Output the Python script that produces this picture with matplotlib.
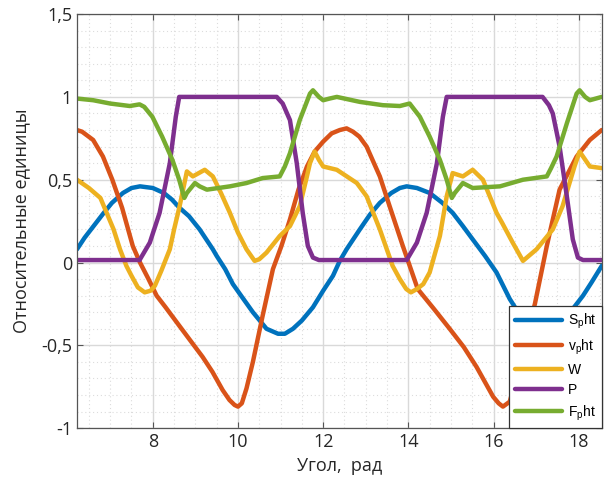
import matplotlib
matplotlib.use('Agg')
import matplotlib.pyplot as plt
from matplotlib.ticker import MultipleLocator, FuncFormatter

# S_p ht
s_x = [6.22, 6.4, 6.64, 6.85, 7.04, 7.3, 7.5, 7.7, 8.0, 8.26, 8.45, 8.63, 8.85, 9.1, 9.41, 9.5, 9.7,
       9.88, 10.1, 10.35, 10.67, 10.94, 11.1, 11.29, 11.5, 11.76, 12.0, 12.23, 12.39, 12.55, 12.86,
       13.1, 13.33, 13.6, 13.8, 13.96, 14.2, 14.5, 14.8, 15.04, 15.28, 15.51, 15.8, 16.07, 16.38, 16.7,
       17.0, 17.2, 17.45, 17.8, 18.1, 18.3, 18.54]
s_y = [0.08, 0.15, 0.23, 0.30, 0.36, 0.42, 0.45, 0.46, 0.45, 0.42, 0.38, 0.33, 0.28, 0.20, 0.08, 0.04, -0.04,
       -0.13, -0.21, -0.30, -0.40, -0.43, -0.43, -0.40, -0.35, -0.27, -0.17, -0.08, 0.01, 0.08, 0.20,
       0.29, 0.36, 0.42, 0.45, 0.46, 0.45, 0.42, 0.36, 0.30, 0.22, 0.14, 0.04, -0.06, -0.22, -0.35,
       -0.42, -0.44, -0.40, -0.30, -0.20, -0.12, -0.02]

# v_p ht
v_x = [6.22, 6.34, 6.6, 6.83, 7.05, 7.28, 7.53, 7.7, 7.9, 8.09, 8.3, 8.56, 8.85, 9.17, 9.4, 9.64,
       9.8, 9.92, 10.0, 10.09, 10.2, 10.35, 10.58, 10.82, 11.02, 11.22, 11.42, 11.62, 11.8, 12.0,
       12.2, 12.39, 12.55, 12.7, 12.85, 13.02, 13.33, 13.56, 13.87, 14.22, 14.6, 14.97, 15.3, 15.6, 15.99,
       16.12, 16.22, 16.38, 16.55, 16.75, 16.97, 17.25, 17.55, 17.95, 18.26, 18.54]
v_y = [0.80, 0.79, 0.74, 0.64, 0.50, 0.33, 0.10, 0.0, -0.10, -0.20, -0.27, -0.36, -0.46, -0.57, -0.66, -0.77,
       -0.83, -0.86, -0.87, -0.85, -0.76, -0.60, -0.32, -0.04, 0.10, 0.26, 0.44, 0.58, 0.67, 0.73,
       0.78, 0.80, 0.81, 0.79, 0.76, 0.70, 0.52, 0.34, 0.10, -0.16, -0.28, -0.40, -0.51, -0.63, -0.81,
       -0.85, -0.87, -0.84, -0.68, -0.47, -0.25, 0.10, 0.44, 0.64, 0.74, 0.80]

# W
w_x = [6.22, 6.5, 6.77, 7.08, 7.23, 7.38, 7.5, 7.65, 7.81, 7.95, 8.05, 8.2, 8.4, 8.5, 8.63, 8.8,
       8.94, 9.22, 9.41, 9.6, 9.81, 10.0, 10.2, 10.39, 10.5, 10.67, 10.98, 11.22, 11.45, 11.6, 11.69,
       11.8, 11.9, 12.0, 12.32, 12.79, 13.02, 13.33, 13.63, 13.8, 13.95, 14.06, 14.2, 14.35, 14.5,
       14.74, 14.9, 15.04, 15.28, 15.51, 15.75, 16.07, 16.2, 16.45, 16.69, 17.01, 17.39, 17.62, 17.9,
       18.02, 18.26, 18.54]
w_y = [0.50, 0.45, 0.39, 0.20, 0.08, -0.02, -0.08, -0.15, -0.18, -0.17, -0.14, -0.05, 0.08, 0.20, 0.34, 0.55,
       0.52, 0.56, 0.52, 0.42, 0.30, 0.18, 0.08, 0.01, 0.02, 0.06, 0.16, 0.22, 0.34, 0.50, 0.60,
       0.67, 0.62, 0.58, 0.56, 0.48, 0.40, 0.20, -0.02, -0.10, -0.16, -0.18, -0.16, -0.13, -0.06,
       0.16, 0.40, 0.54, 0.52, 0.56, 0.50, 0.30, 0.24, 0.12, 0.01, 0.08, 0.20, 0.34, 0.58,
       0.67, 0.58, 0.57]

# P
p_x = [6.22, 7.69, 7.93, 8.16, 8.40, 8.54, 8.62, 10.91, 11.05, 11.22, 11.38, 11.52, 11.64, 11.76, 11.9,
       13.96, 14.2, 14.43, 14.67, 14.81, 14.9, 17.15, 17.3, 17.39, 17.55, 17.72, 17.86, 17.98, 18.1, 18.54]
p_y = [0.015, 0.015, 0.12, 0.30, 0.60, 0.88, 1.0, 1.0, 0.96, 0.86, 0.60, 0.30, 0.10, 0.03, 0.015,
       0.015, 0.12, 0.30, 0.60, 0.88, 1.0, 1.0, 0.95, 0.90, 0.70, 0.40, 0.14, 0.03, 0.015, 0.015]

# F_p ht
f_x = [6.22, 6.6, 7.0, 7.46, 7.69, 7.8, 7.99, 8.22, 8.46, 8.62, 8.74, 8.8, 8.99, 9.1, 9.27, 9.81,
       10.2, 10.58, 10.98, 11.1, 11.22, 11.45, 11.69, 11.76, 11.9, 12.0, 12.15, 12.32, 12.86, 13.4,
       13.8, 14.03, 14.27, 14.5, 14.74, 14.9, 15.02, 15.09, 15.28, 15.51, 16.15, 16.69, 17.25, 17.35,
       17.48, 17.72, 17.95, 18.02, 18.15, 18.26, 18.4, 18.54]
f_y = [0.99, 0.98, 0.96, 0.945, 0.955, 0.94, 0.88, 0.76, 0.62, 0.50, 0.39, 0.42, 0.48, 0.46, 0.44, 0.46,
       0.48, 0.51, 0.52, 0.58, 0.66, 0.86, 1.02, 1.04, 1.0, 0.98, 0.99, 1.0, 0.97, 0.95,
       0.945, 0.96, 0.88, 0.76, 0.62, 0.50, 0.39, 0.42, 0.48, 0.45, 0.46, 0.50, 0.52, 0.57,
       0.64, 0.84, 1.02, 1.04, 1.0, 0.98, 0.99, 1.0]

labels = ['S$_\\mathregular{p}$ht', 'v$_\\mathregular{p}$ht', 'W', 'P', 'F$_\\mathregular{p}$ht']
colors = ['#0072BD', '#D95319', '#EDB120', '#7E2F8E', '#77AC30']

plt.rcParams['font.family'] = ['Open Sans', 'DejaVu Sans']

fig = plt.figure(figsize=(6.06, 4.86), dpi=100)
ax = fig.add_axes([0.127, 0.119, 0.866, 0.852])

series = [(s_x, s_y), (v_x, v_y), (w_x, w_y), (p_x, p_y), (f_x, f_y)]
for (xs, ys), lab, c in zip(series, labels, colors):
    ax.plot(xs, ys, color=c, lw=3.2, label=lab, solid_joinstyle='round', solid_capstyle='round')

ax.set_xlim(6.22, 18.54)
ax.set_ylim(-1, 1.5)
ax.xaxis.set_major_locator(MultipleLocator(2))
ax.xaxis.set_minor_locator(MultipleLocator(0.5))
ax.yaxis.set_major_locator(MultipleLocator(0.5))
ax.yaxis.set_minor_locator(MultipleLocator(0.1))

def comma(v, pos):
    s = ('%g' % round(v, 2)).replace('.', ',')
    return s
ax.yaxis.set_major_formatter(FuncFormatter(comma))

ax.grid(which='major', color='#d9d9d9', lw=1.0)
ax.grid(which='minor', color='#dcdcdc', lw=0.8, ls=(0, (1, 2.5)))
ax.set_axisbelow(True)
ax.tick_params(which='both', direction='in', top=True, right=True, colors='#555555',
               labelcolor='#262626', labelsize=13)
ax.tick_params(which='minor', length=0)
ax.tick_params(which='major', length=4, width=0.8)
for sp in ax.spines.values():
    sp.set_color('#555555')
    sp.set_linewidth(0.9)

ax.set_xlabel('Угол,  рад', fontsize=13, color='#262626', labelpad=4)
ax.set_ylabel('Относительные единицы', fontsize=13, color='#262626', labelpad=8)

leg = ax.legend(loc='lower right', frameon=True, fancybox=False, borderaxespad=0,
                handlelength=3.4, handletextpad=0.4, labelspacing=0.45, borderpad=0.4,
                prop={'family': ['Liberation Sans', 'DejaVu Sans'], 'size': 10})
leg.get_frame().set_edgecolor('#333333')
leg.get_frame().set_linewidth(0.9)
leg.get_frame().set_alpha(1)

fig.savefig('out.png', dpi=100)
